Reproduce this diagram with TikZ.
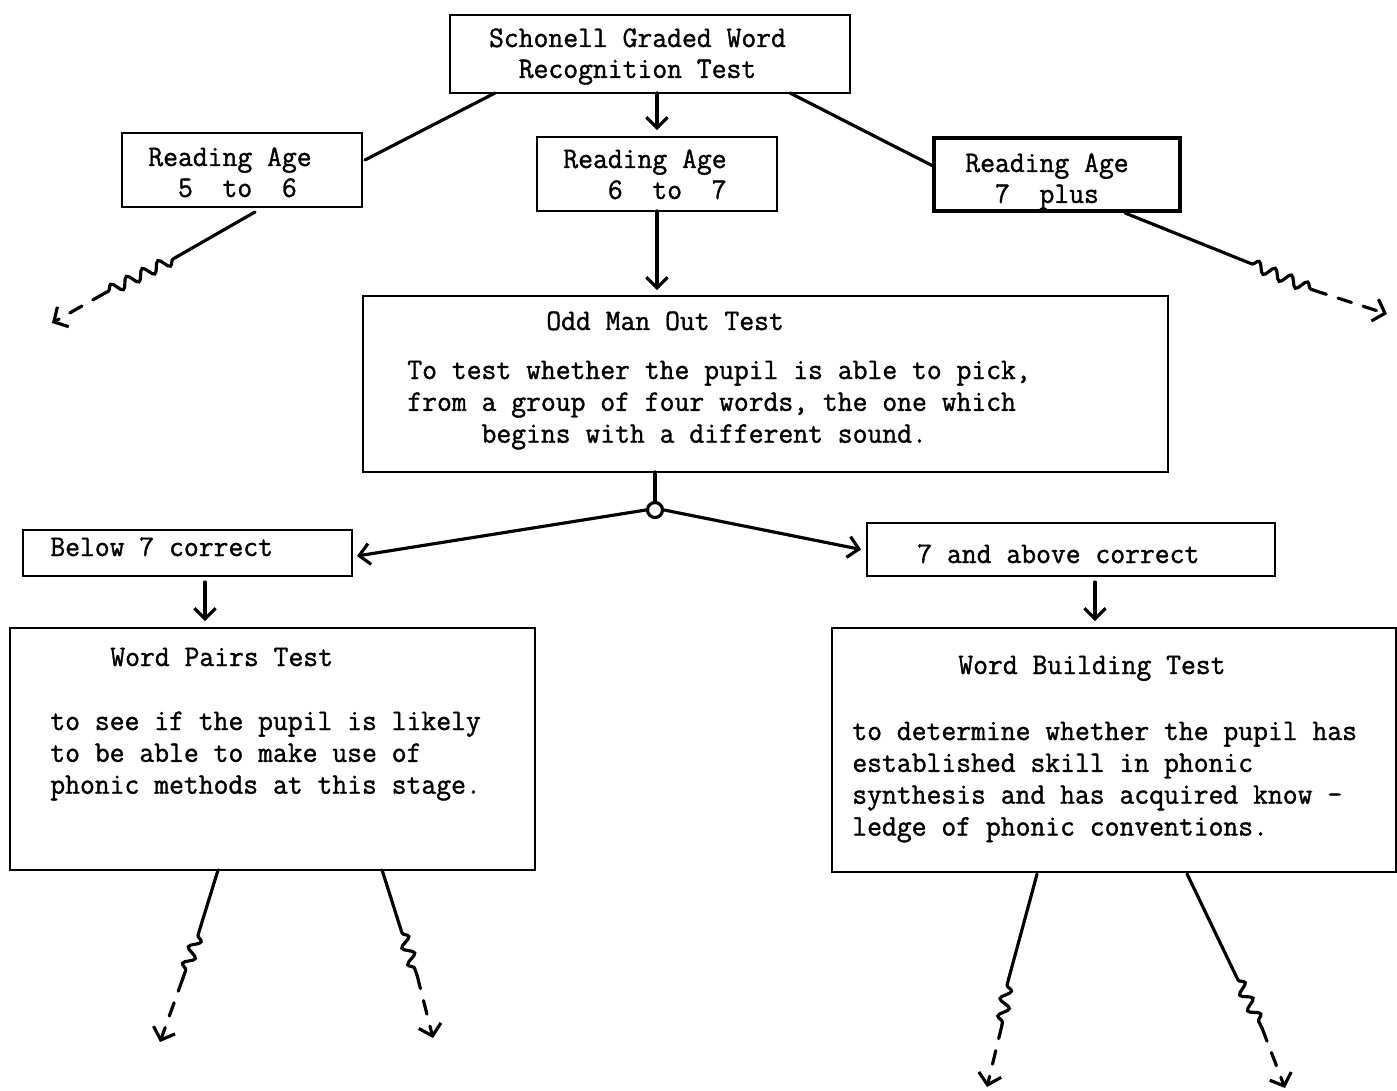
\documentclass[tikz,border=0pt]{standalone}
\usepackage{fontspec}
\usetikzlibrary{arrows.meta,calc,decorations.pathmorphing}
\newfontfamily\tyf{Latin Modern Mono}[FakeBold=1.2, FakeStretch=0.965]
\newcommand\tyfont{\tyf\fontsize{17}{17.6}\selectfont}
\begin{document}
\begin{tikzpicture}[x=0.02cm,y=-0.02cm,
  box/.style={draw, line width=1.4pt, inner sep=0pt, outer sep=0pt},
  txt/.style={inner sep=0pt, anchor=base west, font=\tyfont},
  ctxt/.style={inner sep=0pt, anchor=base, font=\tyfont},
  conn/.style={line width=1.8pt, line cap=round},
  arr/.style={conn, -{Straight Barb[length=6pt,width=12pt]}},
  wig/.style={conn, decorate, decoration={snake, segment length=10pt, amplitude=3pt}},
  brk/.style={conn, dash pattern=on 8pt off 7pt, -{Straight Barb[length=6pt,width=13pt]}}]
\useasboundingbox (0,0) rectangle (1397,1091);
% boxes
\node[box, minimum width=8cm, minimum height=1.56cm] (sch) at (650,54) {};
\node[box, minimum width=4.8cm, minimum height=1.48cm] (ra56) at (242,170) {};
\node[box, minimum width=4.8cm, minimum height=1.48cm] (ra67) at (657,174) {};
\node[box, line width=2pt, minimum width=4.92cm, minimum height=1.46cm] (ra7) at (1057,174.5) {};
\node[box, minimum width=16.1cm, minimum height=3.52cm] (odd) at (765.5,384) {};
\node[box, minimum width=6.58cm, minimum height=0.92cm] (below) at (187.5,553) {};
\node[box, minimum width=8.16cm, minimum height=1.06cm] (above) at (1071,549.5) {};
\node[box, minimum width=10.5cm, minimum height=4.84cm] (pairs) at (272.5,749) {};
\node[box, minimum width=11.28cm, minimum height=4.88cm] (build) at (1114,750) {};
\node[draw, circle, line width=1.8pt, minimum size=0.3cm, inner sep=0pt] (hub) at (655,510) {};
% texts
\node[ctxt] (tsch) at (637.5,47) {\begin{tabular}[t]{@{}c@{}}Schonell Graded Word\\Recognition Test\end{tabular}};
\node[txt] (t56) at (148,166) {\begin{tabular}[t]{@{}l@{}}Reading Age\\~~5~~to~~6\end{tabular}};
\node[txt] (t67) at (563,168) {\begin{tabular}[t]{@{}l@{}}Reading Age\\~~~6~~to~~7\end{tabular}};
\node[txt] (t7) at (965,172) {\begin{tabular}[t]{@{}l@{}}Reading Age\\~~7~~plus\end{tabular}};
\node[txt] (todd) at (546,330) {Odd Man Out Test};
\node[txt] (toddb) at (407,379) {\def\arraystretch{1.03}\begin{tabular}[t]{@{}l@{}}To test whether the pupil is able to pick,\\from a group of four words, the one which\\~~~~~begins with a different sound.\end{tabular}};
\node[txt] (tbelow) at (50,556) {Below 7 correct};
\node[txt] (tabove) at (917,563) {7 and above correct};
\node[txt] (tpairs) at (110,666) {Word Pairs Test};
\node[txt] (tpairsb) at (50,730) {\def\arraystretch{1.03}\begin{tabular}[t]{@{}l@{}}to see if the pupil is likely\\to be able to make use of\\phonic methods at this stage.\end{tabular}};
\node[txt] (tbuild) at (958,674) {Word Building Test};
\node[txt] (tbuildb) at (852,740) {\def\arraystretch{1.03}\begin{tabular}[t]{@{}l@{}}to determine whether the pupil has\\established skill in phonic\\synthesis and has acquired know -\\ledge of phonic conventions.\end{tabular}};
% connectors
\draw[arr, shorten >=1.4mm] (sch.south -| ra67.north) -- (ra67.north);
\draw[conn] ($(sch.south west)+(45,0)$) -- ($(ra56.east)+(3,-10)$);
\draw[conn] ($(sch.south east)+(-60,0)$) -- ($(ra7.west)+(-2,-9)$);
\draw[arr, shorten >=1.2mm] (ra67.south) -- (ra67.south |- odd.north);
% left break arrow
\coordinate (la1) at (173,259); \coordinate (la2) at (105,293); \coordinate (la3) at (52,323);
\draw[conn] ($(ra56.south)+(13,5)$) -- (la1);
\draw[wig] (la1) -- (la2);
\draw[brk] (la2) -- (la3);
% right break arrow
\coordinate (rb1) at (1252,264); \coordinate (rb2) at (1313,290); \coordinate (rb3) at (1387,314);
\draw[conn] ($(ra7.south)+(68,2)$) -- (rb1);
\draw[wig] (rb1) -- (rb2);
\draw[brk] (rb2) -- (rb3);
% hub
\draw[conn] (hub.north |- odd.south) -- (hub.north);
\draw[arr] (hub.west) -- ($(below.east)+(5,3)$);
\draw[arr] (hub.east) -- ($(above.west)+(-6,0)$);
\draw[arr, shorten <=1.2mm, shorten >=1.4mm] ([xshift=0.35cm]below.south) -- ([xshift=0.35cm]below.south |- pairs.north);
\draw[arr, shorten <=1.2mm, shorten >=1.4mm] ([xshift=0.48cm]above.south) -- ([xshift=0.48cm]above.south |- build.north);
% pairs break arrows
\coordinate (pa1) at (198,935); \coordinate (pa2) at (183,978); \coordinate (pa3) at (160,1042);
\draw[conn] ($(pairs.south west)+(208,0)$) -- (pa1);
\draw[wig] (pa1) -- (pa2);
\draw[brk] (pa2) -- (pa3);
\coordinate (pb1) at (402,933); \coordinate (pb2) at (417,975); \coordinate (pb3) at (433,1038);
\draw[conn] ($(pairs.south west)+(372,0)$) -- (pb1);
\draw[wig] (pb1) -- (pb2);
\draw[brk] (pb2) -- (pb3);
% build break arrows
\coordinate (ba1) at (1007,985); \coordinate (ba2) at (1002,1025); \coordinate (ba3) at (987,1087);
\draw[conn] ($(build.south west)+(205,2)$) -- (ba1);
\draw[wig] (ba1) -- (ba2);
\draw[brk] (ba2) -- (ba3);
\coordinate (bb1) at (1238,980); \coordinate (bb2) at (1262,1028); \coordinate (bb3) at (1285,1088);
\draw[conn] ($(build.south west)+(355,2)$) -- (bb1);
\draw[wig] (bb1) -- (bb2);
\draw[brk] (bb2) -- (bb3);
\end{tikzpicture}
\end{document}
